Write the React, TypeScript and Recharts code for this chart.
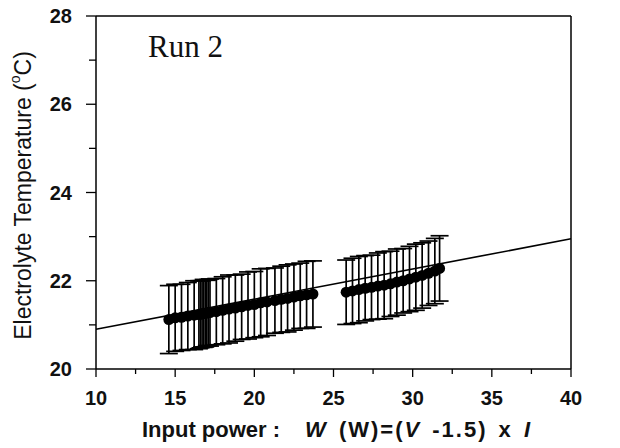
import React from 'react';
import { ComposedChart, Scatter, ErrorBar, XAxis, YAxis, ReferenceLine } from 'recharts';

// tick positions
const xTicks = [10, 12.5, 15, 17.5, 20, 22.5, 25, 27.5, 30, 32.5, 35, 37.5, 40];
const yTicks = [20, 21, 22, 23, 24, 25, 26, 27, 28];

// lower power group
const lowPower = [14.6, 15.0, 15.4, 15.8, 16.2, 16.5, 16.6, 16.7, 16.8, 16.9, 17.0, 17.1, 17.2, 17.6, 18.0, 18.4, 18.8, 19.2, 19.6, 20.0, 20.4, 20.8, 21.3, 21.7, 22.1, 22.5, 22.9, 23.3, 23.7];
const lowTemp = [21.12, 21.16, 21.17, 21.2, 21.22, 21.23, 21.24, 21.25, 21.26, 21.26, 21.27, 21.28, 21.28, 21.3, 21.33, 21.36, 21.38, 21.41, 21.44, 21.46, 21.5, 21.52, 21.55, 21.58, 21.6, 21.63, 21.66, 21.68, 21.7];
const lowErr = [0.77, 0.76, 0.75, 0.76, 0.78, 0.77, 0.76, 0.75, 0.77, 0.76, 0.74, 0.75, 0.76, 0.75, 0.76, 0.77, 0.75, 0.74, 0.76, 0.75, 0.77, 0.76, 0.74, 0.75, 0.76, 0.75, 0.74, 0.76, 0.75];

// higher power group
const highPower = [25.8, 26.2, 26.6, 27.0, 27.4, 27.8, 28.2, 28.6, 29.0, 29.4, 29.8, 30.2, 30.6, 31.0, 31.4, 31.7];
const highTemp = [21.74, 21.77, 21.8, 21.83, 21.85, 21.88, 21.9, 21.93, 21.97, 22.0, 22.04, 22.08, 22.12, 22.17, 22.22, 22.28];
const highErr = [0.73, 0.74, 0.75, 0.74, 0.73, 0.75, 0.76, 0.74, 0.75, 0.73, 0.74, 0.75, 0.74, 0.73, 0.74, 0.74];

// linear fit
const fitPower = [10, 40];
const fitTemp = [20.9, 22.95];

const points = [
  ...lowPower.map((x, i) => ({ x, y: lowTemp[i], err: lowErr[i] })),
  ...highPower.map((x, i) => ({ x, y: highTemp[i], err: highErr[i] })),
];

const FONT = '"Liberation Sans", Arial, Helvetica, sans-serif';

const XTick = (props: any) => {
  const { x, y, payload } = props;
  const major = payload.value % 5 === 0;
  return (
    <g>
      <line x1={x} x2={x} y1={y} y2={y + (major ? 8 : 5)} stroke="#000" strokeWidth={1.3} />
      {major && (
        <text x={x} y={y + 36} textAnchor="middle" fontFamily={FONT} fontWeight="bold" fontSize={20} fill="#111">
          {payload.value}
        </text>
      )}
    </g>
  );
};

const YTick = (props: any) => {
  const { x, y, payload } = props;
  const major = payload.value % 2 === 0;
  return (
    <g>
      <line x1={x} x2={x - (major ? 10 : 7)} y1={y} y2={y} stroke="#000" strokeWidth={1.3} />
      {major && (
        <text x={x - 24} y={y + 7} textAnchor="end" fontFamily={FONT} fontWeight="bold" fontSize={20} fill="#111">
          {payload.value}
        </text>
      )}
    </g>
  );
};

const XTitle = (props: any) => {
  const vb = props.viewBox || { x: 96, y: 369, width: 475 };
  const x0 = vb.x;
  const base = vb.y + 68;
  return (
    <text y={base} fontFamily={FONT} fontWeight="bold" fontSize={22} fill="#111">
      <tspan x={x0 + 46}>Input power :</tspan>
      <tspan x={x0 + 209} letterSpacing={2} wordSpacing={3}>
        <tspan fontStyle="italic">W</tspan> (W)=(<tspan fontStyle="italic">V</tspan> -1.5) x <tspan fontStyle="italic">I</tspan>
      </tspan>
    </text>
  );
};

const YTitle = (props: any) => {
  const vb = props.viewBox || { x: 0, y: 16, height: 353 };
  const cy = vb.y + vb.height / 2 + 3;
  const cx = 23;
  return (
    <text
      x={cx}
      y={cy}
      transform={`rotate(-90, ${cx}, ${cy})`}
      textAnchor="middle"
      dominantBaseline="central"
      fontFamily={FONT}
      fontSize={23}
      fill="#111"
    >
      Electrolyte Temperature (<tspan fontSize={14} dy={-8}>o</tspan>
      <tspan dy={8}>C)</tspan>
    </text>
  );
};

const Dot = (props: any) => <circle cx={props.cx} cy={props.cy} r={5.5} fill="#000" />;

export default function App() {
  return (
    <div style={{ position: 'absolute', left: 0, top: 0, width: 620, height: 448, background: '#fff' }}>
      <ComposedChart width={620} height={448} margin={{ top: 16, right: 49, bottom: 0, left: 0 }}>
        <XAxis
          type="number"
          dataKey="x"
          domain={[10, 40]}
          ticks={xTicks}
          interval={0}
          tick={<XTick />}
          tickLine={false}
          tickSize={0}
          tickMargin={0}
          height={79}
          axisLine={{ stroke: '#000', strokeWidth: 1.5 }}
          allowDataOverflow
          label={<XTitle />}
        />
        <YAxis
          type="number"
          domain={[20, 28]}
          ticks={yTicks}
          interval={0}
          tick={<YTick />}
          tickLine={false}
          tickSize={0}
          tickMargin={0}
          width={96}
          axisLine={{ stroke: '#000', strokeWidth: 1.5 }}
          allowDataOverflow
          label={<YTitle />}
        />
        <ReferenceLine y={28} stroke="#000" strokeWidth={1.5} />
        <ReferenceLine x={40} stroke="#000" strokeWidth={1.5} />
        <ReferenceLine
          segment={[
            { x: fitPower[0], y: fitTemp[0] },
            { x: fitPower[1], y: fitTemp[1] },
          ]}
          stroke="#000"
          strokeWidth={1.6}
        />
        <Scatter data={points} dataKey="y" fill="#000" shape={<Dot />} isAnimationActive={false}>
          <ErrorBar dataKey="err" direction="y" width={9} stroke="#000" strokeWidth={1.7} isAnimationActive={false} />
        </Scatter>
        <text x={148} y={57} fontFamily='"Liberation Serif", "Times New Roman", serif' fontSize={31} fill="#111">
          Run 2
        </text>
      </ComposedChart>
    </div>
  );
}
